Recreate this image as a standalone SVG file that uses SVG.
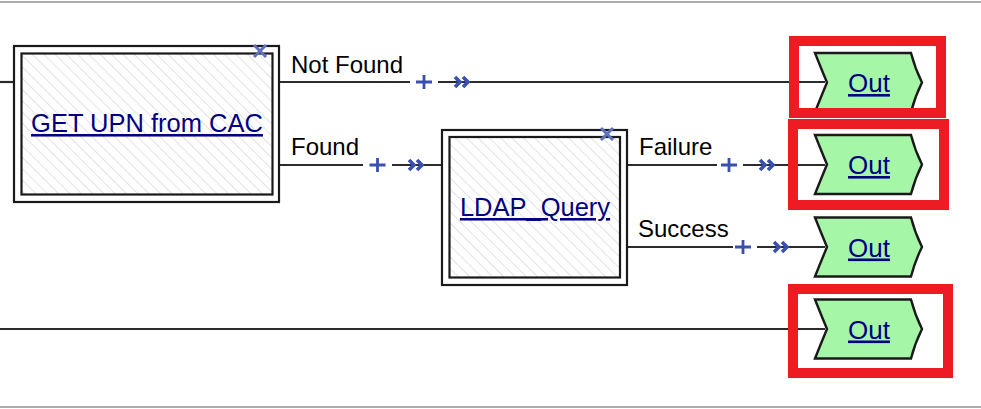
<svg xmlns="http://www.w3.org/2000/svg" width="981" height="409" viewBox="0 0 981 409">
<defs>
<style>
.frame{fill:#fff;stroke:#1a1a1a;stroke-width:2.2}
.inner{fill:url(#hatch);stroke:#1a1a1a;stroke-width:2.2}
.link{font-family:"Liberation Sans",Arial,sans-serif;font-size:25.5px;fill:#000080;text-decoration:underline;text-anchor:middle}
.lbl{font-family:"Liberation Sans",Arial,sans-serif;font-size:24px;fill:#000}
.wire{stroke:#2b2b2b;stroke-width:2.2;fill:none}
.icon{stroke:#3a4fb0;stroke-width:2.8;fill:none}
.chev{stroke:#3a4fb0;stroke-width:3.6;fill:none;stroke-linejoin:miter}
.close{stroke:#6070bb;stroke-width:3;fill:none}
.out{fill:#a6f6a8;stroke:#1a1a1a;stroke-width:2.4}
.outtxt{font-family:"Liberation Sans",Arial,sans-serif;font-size:26px;fill:#000080;text-decoration:underline;text-anchor:middle}
.hl{fill:none;stroke:#ed1c24;stroke-width:10}
.edge{stroke:#acacac;stroke-width:2}
</style>
<pattern id="hatch" width="8" height="8" patternUnits="userSpaceOnUse" patternTransform="rotate(-45)">
<rect width="8" height="8" fill="#fff"/>
<line x1="0" y1="0" x2="0" y2="8" stroke="#d6d6d6" stroke-width="1.4"/>
</pattern>
<g id="plus"><path class="icon" d="M-8,0 H8 M0,-7 V7"/></g>
<g id="chev"><path class="chev" d="M-9,-5 L-4,0 L-9,5 M-1,-5 L4,0 L-1,5"/></g>
<path id="outshape" class="out" d="M0,-29.5 L96,-29.5 Q100,-14 107,0 Q100,14 96,29.5 L0,29.5 Q7,12 12,0 Q7,-12 0,-29.5 Z"/>
</defs>

<line class="edge" x1="0" y1="2" x2="981" y2="2"/>
<line class="edge" x1="0" y1="407" x2="981" y2="407"/>

<g id="connectors">
<line class="wire" x1="0" y1="82" x2="14" y2="82"/>
<line class="wire" x1="280" y1="82" x2="410" y2="82"/>
<line class="wire" x1="438" y1="82" x2="825" y2="82"/>
<use href="#plus" x="424" y="82"/>
<use href="#chev" x="464" y="82"/>
<text class="lbl" x="291" y="73">Not Found</text>

<line class="wire" x1="280" y1="165" x2="363" y2="165"/>
<line class="wire" x1="392" y1="165" x2="442" y2="165"/>
<use href="#plus" x="377.5" y="165"/>
<use href="#chev" x="418" y="165"/>
<text class="lbl" x="291" y="155">Found</text>

<line class="wire" x1="627" y1="165" x2="717" y2="165"/>
<line class="wire" x1="743" y1="165" x2="825" y2="165"/>
<use href="#plus" x="729" y="165"/>
<use href="#chev" x="769" y="165"/>
<text class="lbl" x="639" y="155">Failure</text>

<line class="wire" x1="627" y1="247" x2="733" y2="247"/>
<line class="wire" x1="757" y1="247" x2="825" y2="247"/>
<use href="#plus" x="743" y="247"/>
<use href="#chev" x="783" y="247"/>
<text class="lbl" x="638" y="237">Success</text>

<line class="wire" x1="0" y1="329" x2="825" y2="329"/>
</g>

<g id="node-get-upn">
<rect class="frame" x="14" y="46" width="265" height="156"/>
<rect class="inner" x="21.5" y="53.5" width="251" height="141"/>
<path class="close" d="M254,45 L266,57 M266,45 L254,57"/>
<text class="link" x="147" y="132">GET UPN from CAC</text>
</g>

<g id="node-ldap">
<rect class="frame" x="442" y="130" width="185" height="155"/>
<rect class="inner" x="449.5" y="137" width="170.5" height="140.5"/>
<path class="close" d="M601,128 L613,140 M613,128 L601,140"/>
<text class="link" x="535" y="216">LDAP_Query</text>
</g>

<g id="out-1">
<use href="#outshape" x="815" y="82.5"/>
<text class="outtxt" x="869" y="92">Out</text>
</g>
<g id="out-2">
<use href="#outshape" x="815" y="164.5"/>
<text class="outtxt" x="869" y="174">Out</text>
</g>
<g id="out-3">
<use href="#outshape" x="815" y="247"/>
<text class="outtxt" x="869" y="256.5">Out</text>
</g>
<g id="out-4">
<use href="#outshape" x="815" y="329"/>
<text class="outtxt" x="869" y="338.5">Out</text>
</g>

<g id="highlights">
<rect class="hl" x="794" y="41" width="147" height="72"/>
<rect class="hl" x="793" y="124" width="151" height="81"/>
<rect class="hl" x="793" y="289" width="155" height="84"/>
</g>
</svg>
